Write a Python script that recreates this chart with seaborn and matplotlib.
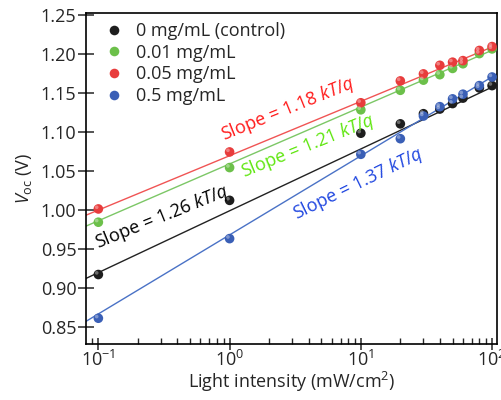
import numpy as np
import pandas as pd
import matplotlib
matplotlib.use("Agg")
import matplotlib.pyplot as plt
import matplotlib.transforms as mtransforms
import seaborn as sns

# ---------------- data ----------------
intensity = [0.1, 1, 10, 20, 30, 40, 50, 60, 80, 100]
series_names = ["0 mg/mL (control)", "0.01 mg/mL", "0.05 mg/mL", "0.5 mg/mL"]
voc_control = [0.917, 1.012, 1.098, 1.110, 1.123, 1.129, 1.136, 1.143, 1.156, 1.159]
voc_001 = [0.984, 1.054, 1.128, 1.153, 1.166, 1.173, 1.181, 1.187, 1.200, 1.206]
voc_005 = [1.001, 1.074, 1.137, 1.165, 1.174, 1.185, 1.189, 1.191, 1.204, 1.209]
voc_05 = [0.861, 0.963, 1.071, 1.091, 1.120, 1.132, 1.142, 1.148, 1.159, 1.170]

# fitted lines (end values)
fit_x = [0.0805, 109]
fit_control = [0.912, 1.160]
fit_001 = [0.979, 1.207]
fit_005 = [0.993, 1.211]
fit_05 = [0.857, 1.174]

slope_labels = ["Slope = 1.26 $kT/q$", "Slope = 1.21 $kT/q$",
                "Slope = 1.18 $kT/q$", "Slope = 1.37 $kT/q$"]

marker_colors = ["#1e1e1e", "#6cc04a", "#e83c3c", "#3a5fb6"]
line_colors = ["#222222", "#7cc766", "#f05454", "#4a72c6"]
text_colors = ["#000000", "#5fe60f", "#ff1a1a", "#1f46e0"]

# ---------------- frames ----------------
vals = [voc_control, voc_001, voc_005, voc_05]
fits = [fit_control, fit_001, fit_005, fit_05]
pts = pd.DataFrame({
    "x": np.tile(intensity, 4),
    "y": np.concatenate(vals),
    "s": np.repeat(series_names, len(intensity)),
})
lines = pd.DataFrame({
    "x": np.tile(fit_x, 4),
    "y": np.concatenate(fits),
    "s": np.repeat(series_names, len(fit_x)),
})

sns.set_theme(style="ticks")
plt.rcParams["font.family"] = ["Open Sans", "DejaVu Sans"]
plt.rcParams["mathtext.fontset"] = "custom"
plt.rcParams["mathtext.rm"] = "Open Sans"
plt.rcParams["mathtext.it"] = "Open Sans:italic"
plt.rcParams["mathtext.bf"] = "Open Sans:bold"

fig = plt.figure(figsize=(5.02, 4.0), dpi=100)
ax = fig.add_axes([0.1713, 0.14, 0.8187, 0.8275])

sns.lineplot(data=lines, x="x", y="y", hue="s", hue_order=series_names,
             palette=line_colors, legend=False, lw=1.0, ax=ax, zorder=2)
sns.scatterplot(data=pts, x="x", y="y", hue="s", hue_order=series_names,
                palette=marker_colors, s=48, edgecolor="none", ax=ax, zorder=3)
# small highlight to suggest the sphere look
hl = mtransforms.offset_copy(ax.transData, fig=fig, x=-1.2, y=1.2, units="points")
for name, c in zip(series_names, marker_colors):
    sub = pts[pts["s"] == name]
    ax.scatter(sub["x"], sub["y"], s=7, color="white", alpha=0.35,
               edgecolor="none", transform=hl, zorder=4)

ax.set_xscale("log")
ax.set_xlim(0.0805, 109)
ax.set_ylim(0.828, 1.252)
ax.set_yticks(np.arange(0.85, 1.2501, 0.05))
ax.yaxis.set_major_formatter(matplotlib.ticker.FormatStrFormatter("%.2f"))

ax.set_xlabel("Light intensity (mW/cm$^2$)", fontsize=13, labelpad=0)
ax.set_ylabel(r"$V_{\mathrm{oc}}$ (V)", fontsize=13, labelpad=5)

for sp in ax.spines.values():
    sp.set_linewidth(1.2)
    sp.set_color("black")
ax.tick_params(axis="y", which="major", direction="inout", length=12, width=1.1,
               labelsize=13, pad=1)
ax.tick_params(axis="x", which="major", direction="inout", length=9, width=1.1,
               labelsize=13, pad=0)
ax.tick_params(axis="x", which="minor", direction="in", length=4, width=1.0)

# slope annotations
ann_pos = [(0.305, 0.990, 22), (3.92, 1.081, 22), (2.8, 1.1294, 22), (9.6, 1.0325, 26)]
for lab, (xx, yy, rot), c in zip(slope_labels, ann_pos, text_colors):
    ax.text(xx, yy, lab, color=c, fontsize=13, rotation=rot,
            ha="center", va="center", rotation_mode="anchor", zorder=5)

leg = ax.legend(loc="upper left", bbox_to_anchor=(0.025, 1.0), frameon=False,
                fontsize=13, handletextpad=0.7, labelspacing=0.2,
                borderaxespad=0.2, borderpad=0.3, handlelength=1.0, title=None)

fig.savefig("out.png", dpi=100)
